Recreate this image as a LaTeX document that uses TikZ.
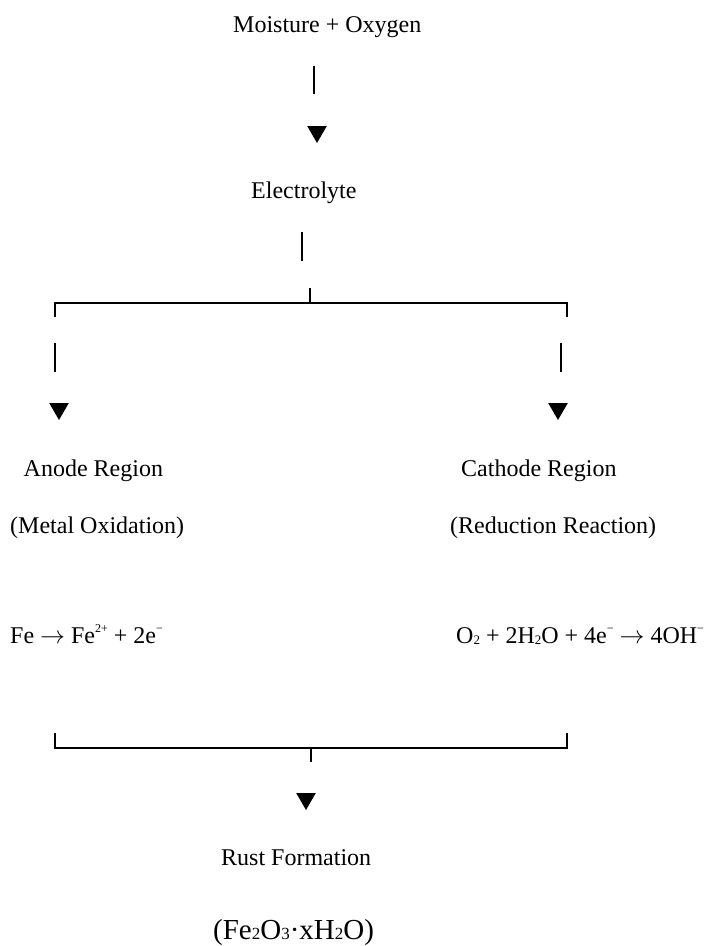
\documentclass[tikz,border=0pt]{standalone}
\usepackage{fontspec}
\setmainfont{Liberation Serif}
\usetikzlibrary{shapes.geometric}
\newcommand{\sps}[1]{\raisebox{0.42em}{\fontsize{12}{12}\selectfont #1}}
\newcommand{\sbs}[1]{\raisebox{-0.08em}{\fontsize{13}{13}\selectfont #1}}
\newcommand{\sbsb}[1]{\raisebox{-0.02em}{\fontsize{17}{17}\selectfont #1}}
\newcommand{\rarr}{$\rightarrow$}
\begin{document}
\begin{tikzpicture}[x=1pt,y=-1pt,
  lbl/.style={inner sep=0pt,anchor=base west,font=\fontsize{24}{28}\selectfont},
  biglbl/.style={inner sep=0pt,anchor=base west,font=\fontsize{29}{34}\selectfont},
  bar/.style={line width=2pt},
  tri/.style={regular polygon,regular polygon sides=3,shape border rotate=180,
    fill=black,draw=none,inner sep=0pt,minimum size=22.6pt}]
\useasboundingbox (0,0) rectangle (707,946);
% texts
\node[lbl] (moist) at (233,32) {Moisture + Oxygen};
\node[lbl] (elec) at (251,198) {Electrolyte};
\node[lbl] (anode) at (23.5,476) {Anode Region};
\node[lbl] (cath) at (461,476) {Cathode Region};
\node[lbl] (metox) at (10,533) {(Metal Oxidation)};
\node[lbl] (redre) at (450,533) {(Reduction Reaction)};
\node[lbl] (feeq) at (10,643) {Fe \rarr{} Fe\sps{2+} + 2e\sps{−}};
\node[lbl] (oeq) at (456,643) {O\sbs{2} + 2H\sbs{2}O + 4e\sps{−} \rarr{} 4OH\sps{−}};
\node[lbl] (rust) at (221,865) {Rust Formation};
\node[biglbl] (form) at (213,939) {(Fe\sbsb{2}O\sbsb{3}·xH\sbsb{2}O)};
% triangles
\node[tri] (t1) at (317,131.7) {};
\node[tri] (tl) at (59,408.7) {};
\node[tri] (tr) at (558,408.7) {};
\node[tri] (t3) at (306,798.7) {};
% bar coordinates
\coordinate (b1a) at (314,66); \coordinate (b1b) at (314,94);
\coordinate (b2a) at (301.7,232); \coordinate (b2b) at (301.7,261);
\coordinate (tc) at (310,288); \coordinate (tm) at (310,303);
\coordinate (tl0) at (55,317); \coordinate (tl1) at (55,303);
\coordinate (tr0) at (567,317); \coordinate (tr1) at (567,303);
\coordinate (lba) at (55,343); \coordinate (lbb) at (55,372);
\coordinate (rba) at (561,343); \coordinate (rbb) at (561,372);
\coordinate (bl0) at (55,733); \coordinate (bl1) at (55,748);
\coordinate (br0) at (567,733); \coordinate (br1) at (567,748);
\coordinate (bm) at (310.6,748); \coordinate (bc) at (310.6,762);
% bars
\draw[bar] (b1a) -- (b1b);
\draw[bar] (b2a) -- (b2b);
\draw[bar] (tc) -- (tm);
\draw[bar] (tl0) -- (tl1) -- (tr1) -- (tr0);
\draw[bar] (lba) -- (lbb);
\draw[bar] (rba) -- (rbb);
\draw[bar] (bl0) -- (bl1) -- (br1) -- (br0);
\draw[bar] (bm) -- (bc);
\end{tikzpicture}
\end{document}
